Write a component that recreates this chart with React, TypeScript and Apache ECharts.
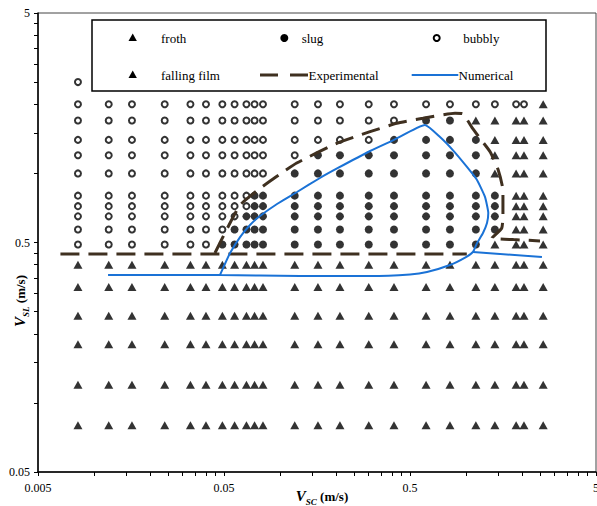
import React, { useEffect, useRef } from 'react';
import * as echarts from 'echarts';

// ---------- data ----------
const xColumns = [0.0082, 0.012, 0.016, 0.024, 0.033, 0.04, 0.049, 0.057, 0.066, 0.073, 0.081,
  0.12, 0.16, 0.21, 0.3, 0.41, 0.61, 0.82, 1.13, 1.43, 1.86, 2.05, 2.6];
const upperRows = [2.0, 1.7, 1.4, 1.2, 1.0, 0.8, 0.72, 0.65, 0.57, 0.49];
// b = bubbly, s = slug, f = froth (one char per column)
const upperRegimes = [
  'bbbbbbbbbbbbbbbbbbbbbbf',
  'bbbbbbbbbbbbbbbbssfffff',
  'bbbbbbbbbbbbbbbssssffff',
  'bbbbbbbbbbbbsssssssffff',
  'bbbbbbbbbbbssssssssffff',
  'bbbbbbbbbsssssssssssfff',
  'bbbbbbbbbsssssssssssfff',
  'bbbbbbbbssssssssssssfff',
  'bbbbbbbsssssssssssssfff',
  'bbbbbbsssssssssssssffff',
];
const lowerRows = [0.4, 0.32, 0.24, 0.18, 0.12, 0.08];
const extraBubbly = [[0.0082, 2.5]];

const experimentalBase = [[0.0066, 0.446], [1.01, 0.446]];
const experimentalLoop = [
  [0.0447, 0.45], [0.0525, 0.584], [0.061, 0.728], [0.076, 0.847], [0.095, 0.965],
  [0.123, 1.11], [0.202, 1.353], [0.305, 1.52], [0.424, 1.653], [0.587, 1.738],
  [0.873, 1.83], [0.96, 1.82], [1.08, 1.58], [1.19, 1.42], [1.35, 1.24], [1.49, 1.035],
  [1.58, 0.847], [1.58, 0.648], [1.556, 0.577], [1.38, 0.523], [1.8, 0.515], [2.5, 0.508],
];
const numericalMain = [
  [0.0119, 0.361], [0.0476, 0.361], [0.128, 0.357], [0.305, 0.357], [0.5, 0.363],
  [0.617, 0.372], [0.82, 0.399], [1.0, 0.432], [1.09, 0.455], [1.146, 0.497],
  [1.234, 0.55], [1.297, 0.608], [1.318, 0.672], [1.265, 0.79], [1.146, 0.936],
  [1.012, 1.067], [0.852, 1.26], [0.725, 1.44], [0.602, 1.625], [0.41, 1.4],
  [0.305, 1.252], [0.205, 1.056], [0.164, 0.955], [0.1235, 0.83], [0.0964, 0.736],
  [0.078, 0.652], [0.069, 0.596], [0.061, 0.528], [0.0539, 0.45], [0.05, 0.395],
  [0.0476, 0.361],
];
const numericalTail = [[1.09, 0.455], [2.56, 0.432]];

const xTickLabels = [0.005, 0.05, 0.5, 5];
const yTickLabels = [0.05, 0.5, 5];

const FONT = '"Liberation Serif", "Times New Roman", serif';
const BROWN = '#3f3020';
const BLUE = '#1a72d6';

function minorTicks(labels: number[]) {
  const out: number[] = [];
  for (let i = 0; i < labels.length - 1; i++) {
    for (let k = 1; k < 10; k++) out.push(+(labels[i] * k).toPrecision(6));
  }
  out.push(labels[labels.length - 1]);
  return out;
}

function fmt(v: number) {
  return String(Number(Number(v).toPrecision(2)));
}

export default function App() {
  const ref = useRef<HTMLDivElement>(null);
  useEffect(() => {
    const chart = echarts.init(ref.current!, null, { renderer: 'svg' });

    const froth: number[][] = [];
    const slug: number[][] = [];
    const bubbly: number[][] = [...extraBubbly];
    const fallingFilm: number[][] = [];
    upperRows.forEach((y, r) => {
      upperRegimes[r].split('').forEach((code, c) => {
        const p = [xColumns[c], y];
        if (code === 'b') bubbly.push(p);
        else if (code === 's') slug.push(p);
        else froth.push(p);
      });
    });
    lowerRows.forEach((y) => xColumns.forEach((x) => fallingFilm.push([x, y])));

    const tri = (cx: number, cy: number) => ({
      type: 'polygon',
      shape: { points: [[cx, cy - 4.5], [cx + 4.2, cy + 3], [cx - 4.2, cy + 3]] },
      style: { fill: '#000' },
    });
    const legendText = (x: number, y: number, text: string) => ({
      type: 'text', x, y,
      style: { text, fontFamily: FONT, fontSize: 13, fill: '#000', verticalAlign: 'middle', align: 'left' },
    });
    const nameRich = {
      v: { fontFamily: FONT, fontSize: 15, fontStyle: 'italic', fontWeight: 'bold', lineHeight: 18, verticalAlign: 'top', fill: '#000', color: '#000' },
      s: { fontFamily: FONT, fontSize: 9, fontStyle: 'italic', fontWeight: 'bold', lineHeight: 18, verticalAlign: 'bottom', fill: '#000', color: '#000' },
      u: { fontFamily: FONT, fontSize: 13, fontWeight: 'bold', lineHeight: 18, verticalAlign: 'top', padding: [2, 0, 0, 0], fill: '#000', color: '#000' },
    };

    const option: any = {
      animation: false,
      backgroundColor: '#fff',
      grid: {
        left: 38, top: 13, right: 1, bottom: 34, show: true, borderColor: '#444', borderWidth: 1,
        containLabel: false, outerBoundsMode: 'none',
      },
      xAxis: {
        type: 'log', logBase: 10, min: 0.005, max: 5,
        axisLine: { show: true, lineStyle: { color: '#000', width: 1.5 } },
        axisTick: { show: true, customValues: minorTicks(xTickLabels), length: 4, lineStyle: { color: '#000' } },
        axisLabel: { customValues: xTickLabels, formatter: fmt, fontFamily: FONT, fontSize: 12, color: '#000', margin: 10 },
        splitLine: { show: false },
        minorTick: { show: false },
      },
      yAxis: {
        type: 'log', logBase: 10, min: 0.05, max: 5,
        axisLine: { show: true, lineStyle: { color: '#000', width: 1.5 } },
        axisTick: { show: true, customValues: minorTicks(yTickLabels), length: 4, lineStyle: { color: '#000' } },
        axisLabel: { customValues: yTickLabels, formatter: fmt, fontFamily: FONT, fontSize: 12, color: '#000', margin: 8 },
        splitLine: { show: false },
        minorTick: { show: false },
      },
      legend: { show: false },
      series: [
        { name: 'froth', type: 'scatter', data: froth, symbol: 'triangle', symbolSize: [9, 8], itemStyle: { color: '#000' } },
        { name: 'falling film', type: 'scatter', data: fallingFilm, symbol: 'triangle', symbolSize: [9, 8], itemStyle: { color: '#000' } },
        { name: 'slug', type: 'scatter', data: slug, symbol: 'circle', symbolSize: 8, itemStyle: { color: '#000' } },
        { name: 'bubbly', type: 'scatter', data: bubbly, symbol: 'circle', symbolSize: 6, itemStyle: { color: '#fff', borderColor: '#000', borderWidth: 2 } },
        { name: 'Experimental', type: 'line', data: experimentalBase, showSymbol: false, symbol: 'none',
          lineStyle: { color: BROWN, width: 3, type: [19, 9] } },
        { name: 'Experimental', type: 'line', data: experimentalLoop, showSymbol: false, symbol: 'none', smooth: 0.15,
          lineStyle: { color: BROWN, width: 3, type: [19, 9] } },
        { name: 'Numerical', type: 'line', data: numericalMain, showSymbol: false, symbol: 'none', smooth: 0.15,
          lineStyle: { color: BLUE, width: 2 } },
        { name: 'Numerical', type: 'line', data: numericalTail, showSymbol: false, symbol: 'none',
          lineStyle: { color: BLUE, width: 2 } },
      ],
      graphic: [
        { type: 'rect', shape: { x: 92, y: 20, width: 454, height: 71 }, style: { fill: '#fff', stroke: '#000', lineWidth: 1.5 }, z: 10 },
        { ...tri(132.7, 38), z: 11 },
        { ...legendText(161, 38, 'froth'), z: 11 },
        { type: 'circle', shape: { cx: 284.3, cy: 38, r: 4 }, style: { fill: '#000' }, z: 11 },
        { ...legendText(301.7, 38, 'slug'), z: 11 },
        { type: 'circle', shape: { cx: 436.7, cy: 38, r: 3 }, style: { fill: '#fff', stroke: '#000', lineWidth: 2 }, z: 11 },
        { ...legendText(463.3, 38, 'bubbly'), z: 11 },
        { ...tri(132.7, 75), z: 11 },
        { ...legendText(161, 75, 'falling film'), z: 11 },
        { type: 'line', shape: { x1: 260, y1: 75, x2: 308, y2: 75 }, style: { stroke: BROWN, lineWidth: 3, lineDash: [18, 12] }, z: 11 },
        { ...legendText(308.5, 75, 'Experimental'), z: 11 },
        { type: 'line', shape: { x1: 411.7, y1: 75, x2: 458.3, y2: 75 }, style: { stroke: BLUE, lineWidth: 2 }, z: 11 },
        { ...legendText(458.5, 75, 'Numerical'), z: 11 },
        { type: 'text', x: 322, y: 497, z: 11,
          style: { text: '{v|V}{s|SC}{u| (m/s)}', rich: nameRich, align: 'center', verticalAlign: 'middle', fontFamily: FONT } },
        { type: 'text', x: 21, y: 301, rotation: Math.PI / 2, z: 11,
          style: { text: '{v|V}{s|SL}{u| (m/s)}', rich: nameRich, align: 'center', verticalAlign: 'middle', fontFamily: FONT } },
      ],
    };
    chart.setOption(option);
    return () => chart.dispose();
  }, []);
  return <div ref={ref} style={{ position: 'absolute', left: 0, top: 0, width: 597, height: 506, background: '#fff' }} />;
}
